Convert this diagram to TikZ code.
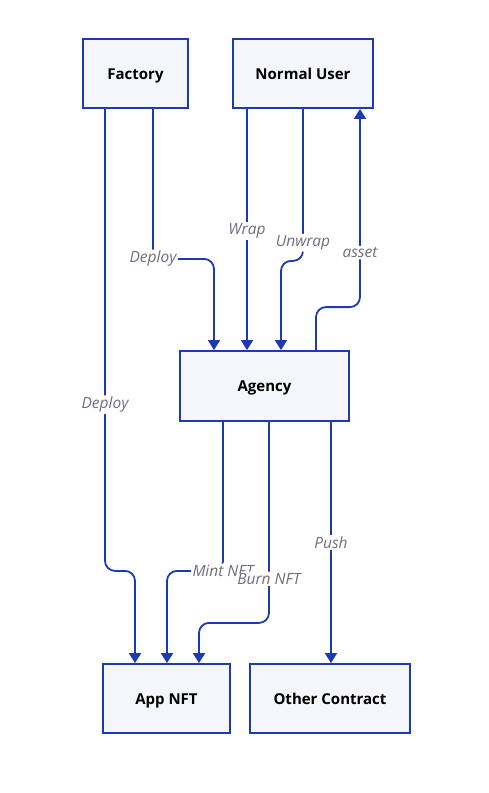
\documentclass[tikz,border=0pt]{standalone}
\usepackage{fontspec}
\setmainfont{Open Sans}
\usetikzlibrary{arrows.meta}
\definecolor{edgeblue}{RGB}{30,58,175}
\definecolor{boxfill}{RGB}{245,246,251}
\definecolor{lblgray}{RGB}{110,110,128}
\tikzset{
  box/.style={draw=edgeblue,fill=boxfill,line width=1.8pt,minimum height=69pt,text height=11pt,text depth=0pt,font=\fontsize{15}{17}\selectfont\bfseries},
  edge/.style={draw=edgeblue,line width=1.8pt,rounded corners=10pt,-{Triangle[length=10pt,width=12pt]}},
  lbl/.style={fill=white,text=lblgray,inner sep=1.5pt,font=\fontsize{15.5}{17}\selectfont\itshape}
}
\begin{document}
\begin{tikzpicture}[x=1pt,y=-1pt]
\useasboundingbox (0,0) rectangle (489,793);
\node[box,minimum width=105pt] (factory) at (135.5,73.5) {Factory};
\node[box,minimum width=140pt] (user) [right of=factory,node distance=167.5pt] {Normal User};
\node[box,minimum width=169pt,minimum height=70pt] (agency) at (264.5,386) {Agency};
\node[box,minimum width=127pt] (app) at (166.5,698.5) {App NFT};
\node[box,minimum width=160pt] (other) [right of=app,node distance=163.5pt] {Other Contract};

\draw[edge] ([xshift=-30.5pt]factory.south) -- node[lbl,pos=0.64] {Deploy} ++(0,462) -- ++(30,0) -- ([xshift=-31.5pt]app.north);
\draw[edge] ([xshift=17.5pt]factory.south) -- ++(0,150) node[lbl] {Deploy} -- ++(61,0) -- ([xshift=-50.5pt]agency.north);
\draw[edge] ([xshift=-56pt]user.south) -- node[lbl,pos=0.506] {Wrap} ([xshift=-17.5pt]agency.north);
\draw[edge] (user.south) -- node[lbl,pos=0.88] {Unwrap} ++(0,152) -- ++(-22,0) -- ([xshift=16.5pt]agency.north);
\draw[edge] ([xshift=51.5pt]agency.north) -- ++(0,-43) -- ++(44,0) -- node[lbl,pos=0.275] {asset} ([xshift=57pt]user.south);
\draw[edge] ([xshift=-41.5pt]agency.south) -- ++(0,149) node[lbl] {Mint NFT} -- ++(-56,0) -- ([xshift=0.5pt]app.north);
\draw[edge] ([xshift=4.5pt]agency.south) -- node[lbl,pos=0.78] {Burn NFT} ++(0,201) -- ++(-70,0) -- ([xshift=32.5pt]app.north);
\draw[edge] ([xshift=66.5pt]agency.south) -- node[lbl,pos=0.5] {Push} ([xshift=1pt]other.north);
\end{tikzpicture}
\end{document}
